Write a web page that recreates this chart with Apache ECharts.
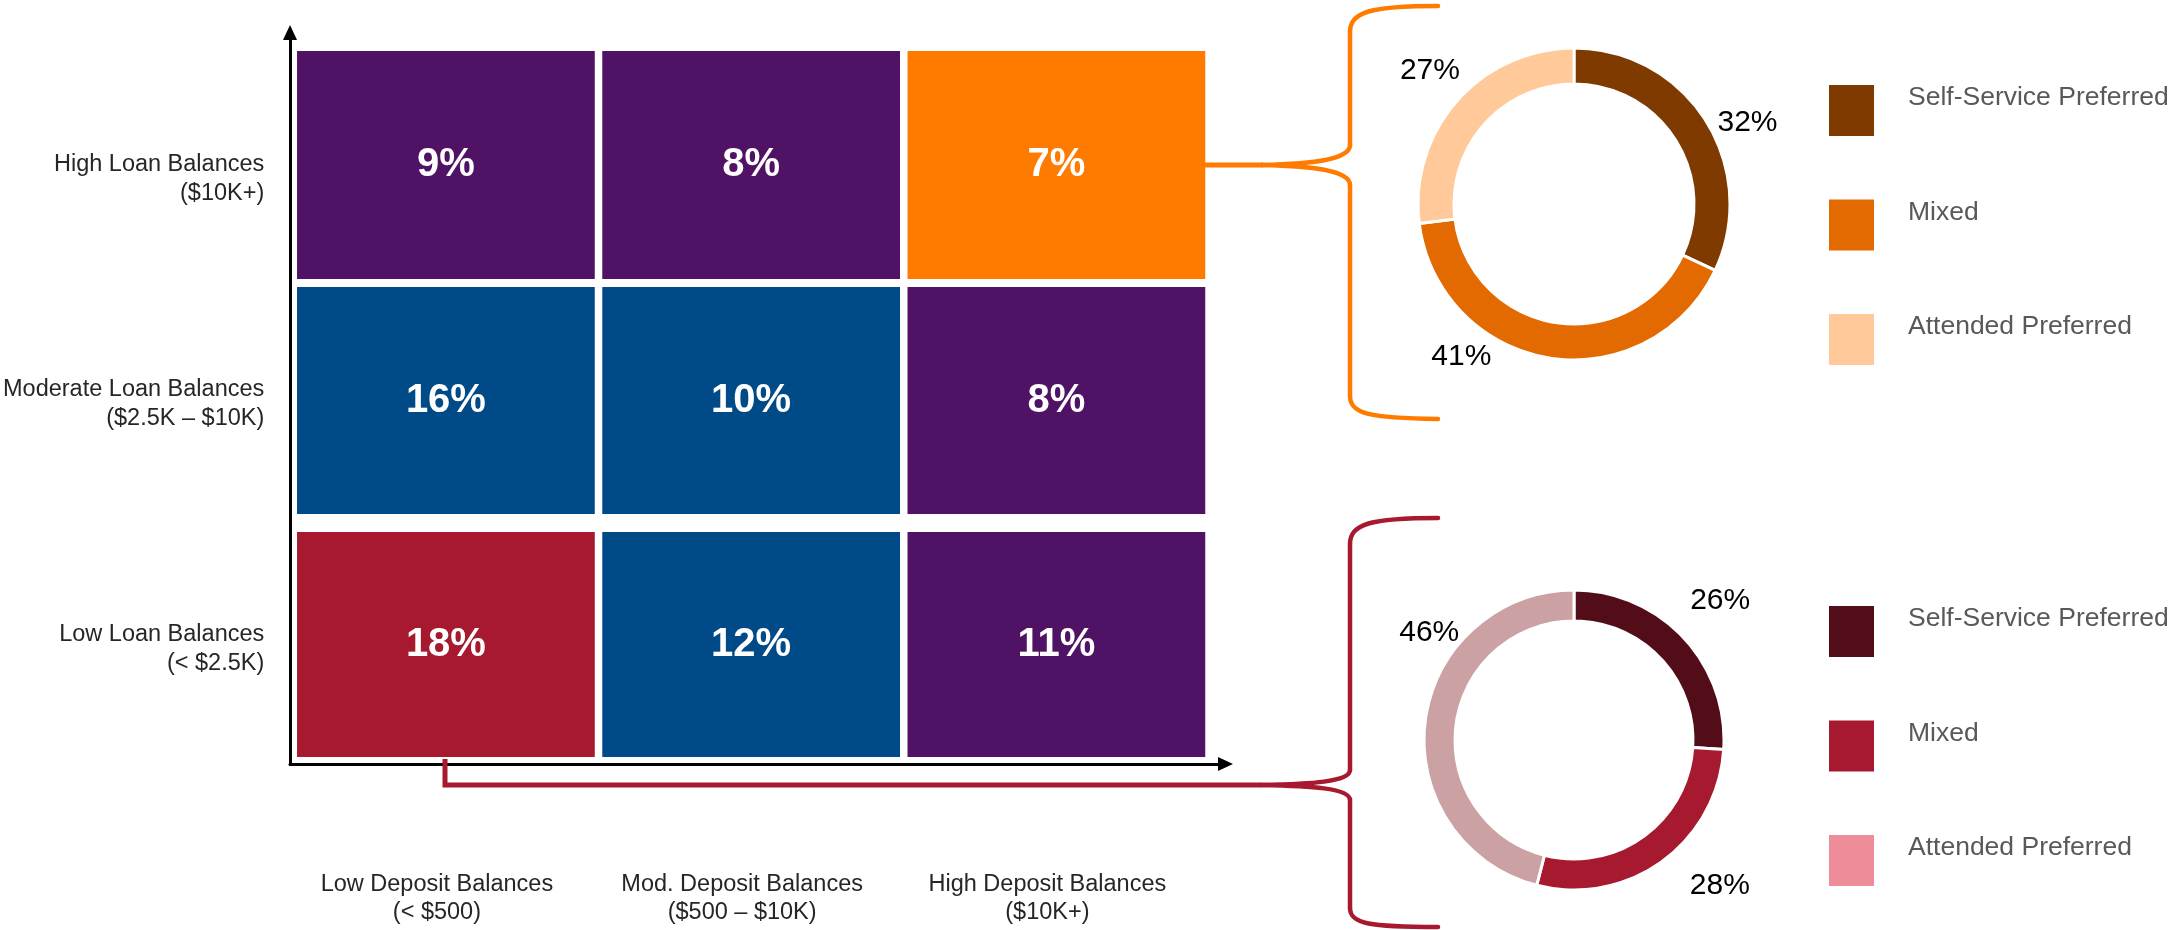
<!DOCTYPE html>
<html>
<head>
<meta charset="utf-8">
<script src="https://cdn.jsdelivr.net/npm/echarts@6/dist/echarts.min.js"></script>
<style>
html,body{margin:0;padding:0;background:#ffffff;}
#chart{width:2177px;height:930px;}
</style>
</head>
<body>
<div id="chart"></div>
<script>
// ---------------- DATA ----------------
const depositCategories = ['Low Deposit Balances\n(< $500)', 'Mod. Deposit Balances\n($500 – $10K)', 'High Deposit Balances\n($10K+)'];
const loanCategories = ['Low Loan Balances\n(< $2.5K)', 'Moderate Loan Balances\n($2.5K – $10K)', 'High Loan Balances\n($10K+)'];
const lowLoanShares = [18, 12, 11];
const moderateLoanShares = [16, 10, 8];
const highLoanShares = [9, 8, 7];
const channelNames = ['Self-Service Preferred', 'Mixed', 'Attended Preferred'];
const highLoanHighDepositMix = [32, 41, 27];
const lowLoanLowDepositMix = [26, 28, 46];

// ---------------- STYLE ----------------
const FONT = '"Liberation Sans", Arial, Helvetica, sans-serif';
const cellPalette = { purple: '#501264', blue: '#004B87', red: '#A6192E', orange: '#FF7B00' };
const cellColorRows = [
  ['red', 'blue', 'purple'],
  ['blue', 'blue', 'purple'],
  ['purple', 'purple', 'orange']
];
const rowInsets = [[9, 4], [2, 9], [4, 6]];      // [top, bottom] gap inside each row band
const loanLabelNudge = [-21.5, -28.5, -15.5];    // vertical placement of row labels
const topDonutColors = ['#7F3A00', '#E26A00', '#FFC999'];
const bottomDonutColors = ['#530D19', '#A6192E', '#CCA1A3'];
const topLegendColors = ['#7F3A00', '#E26A00', '#FFC999'];
const bottomLegendColors = ['#530D19', '#A6192E', '#EE8C99'];
const topLabelShift = [[0, 7], [-52, -9], [14, -25]];
const bottomLabelShift = [[-4, -31], [18, 18], [47, -87]];
const ORANGE = '#FF7B00';
const RED = '#A6192E';

// ---------------- BUILD ----------------
const loanRows = [lowLoanShares, moderateLoanShares, highLoanShares];
const cellData = [];
loanRows.forEach((row, r) => row.forEach((v, c) => cellData.push([c, r, v])));

function donutData(values, colors) {
  return channelNames.map((n, i) => ({ name: n, value: values[i], itemStyle: { color: colors[i] } }));
}
function legendData(colors) {
  return channelNames.map((n, i) => ({ name: n, itemStyle: { color: colors[i] } }));
}
function donutSeries(values, colors, center, radius, shifts) {
  return {
    type: 'pie',
    center: center,
    radius: radius,
    startAngle: 90,
    clockwise: true,
    silent: true,
    avoidLabelOverlap: false,
    itemStyle: { borderColor: '#ffffff', borderWidth: 3 },
    label: {
      show: true, position: 'outside', formatter: '{c}%',
      fontSize: 30, color: '#000000', fontFamily: FONT
    },
    labelLine: { show: false, length: 8, length2: 0 },
    labelLayout: function (p) { return { dx: shifts[p.dataIndex][0], dy: shifts[p.dataIndex][1] }; },
    emphasis: { disabled: true },
    data: donutData(values, colors)
  };
}
function legendBlock(top, colors) {
  return {
    orient: 'vertical', left: 1827, top: top, padding: 0,
    itemWidth: 47, itemHeight: 53, itemGap: 59.5,
    icon: 'rect', selectedMode: false,
    data: legendData(colors),
    // second (blank) line lifts the name towards the top of its swatch, as in the original
    formatter: function (name) { return name + '\n '; },
    textStyle: { fontSize: 26.5, color: '#595959', fontFamily: FONT,
      lineHeight: 25, padding: [0, 0, 0, 28] }
  };
}
function bez(x1, y1, cpx1, cpy1, cpx2, cpy2, x2, y2, color) {
  return { type: 'bezierCurve', z: 1, shape: { x1, y1, cpx1, cpy1, cpx2, cpy2, x2, y2 },
    style: { stroke: color, lineWidth: 4.5, fill: 'none', lineCap: 'round' } };
}
function seg(x1, y1, x2, y2, color, w) {
  return { type: 'line', z: 1, shape: { x1, y1, x2, y2 },
    style: { stroke: color, lineWidth: w || 4.5, lineCap: 'round' } };
}

const chart = echarts.init(document.getElementById('chart'), null, { renderer: 'canvas' });

const option = {
  backgroundColor: '#ffffff',
  animation: false,
  textStyle: { fontFamily: FONT },
  grid: [
    { left: 292, right: 968, top: 47, bottom: 169 },
    { left: 290, right: 951.5, top: 32.5, bottom: 166 }
  ],
  xAxis: [
    {
      type: 'category', gridIndex: 0, data: depositCategories,
      axisLine: { show: false }, axisTick: { show: false }, splitLine: { show: false },
      axisLabel: { interval: 0, margin: 110, fontSize: 23.5, lineHeight: 28, color: '#262626',
        fontFamily: FONT, padding: [0, 18, 0, 0] }
    },
    {
      type: 'value', gridIndex: 1, min: 0, max: 1,
      axisLine: { show: true, onZero: false, symbol: ['none', 'triangle'], symbolSize: [14, 15],
        lineStyle: { color: '#000000', width: 3 } },
      axisTick: { show: false }, axisLabel: { show: false }, splitLine: { show: false }
    }
  ],
  yAxis: [
    {
      type: 'category', gridIndex: 0,
      data: loanCategories.map((t, i) => ({
        value: t, textStyle: { verticalAlign: 'top', padding: [loanLabelNudge[i], 0, 0, 0] }
      })),
      axisLine: { show: false }, axisTick: { show: false }, splitLine: { show: false },
      axisLabel: { interval: 0, margin: 29, fontSize: 23.5, lineHeight: 29, color: '#262626', fontFamily: FONT }
    },
    {
      type: 'value', gridIndex: 1, min: 0, max: 1,
      axisLine: { show: true, onZero: false, symbol: ['none', 'triangle'], symbolSize: [14, 15],
        lineStyle: { color: '#000000', width: 3 } },
      axisTick: { show: false }, axisLabel: { show: false }, splitLine: { show: false }
    }
  ],
  legend: [
    legendBlock(83, topLegendColors),
    legendBlock(604, bottomLegendColors)
  ],
  series: [
    {
      type: 'custom', xAxisIndex: 0, yAxisIndex: 0, silent: true,
      data: cellData,
      renderItem: function (params, api) {
        const c = api.value(0), r = api.value(1), v = api.value(2);
        const pt = api.coord([c, r]);
        const size = api.size([1, 1]);
        const w = size[0] - 7.5;
        const top = pt[1] - size[1] / 2 + rowInsets[r][0];
        const bottom = pt[1] + size[1] / 2 - rowInsets[r][1];
        return {
          type: 'rect',
          shape: { x: pt[0] - w / 2, y: top, width: w, height: bottom - top },
          style: { fill: cellPalette[cellColorRows[r][c]] },
          textContent: {
            style: { text: v + '%', fill: '#ffffff', fontSize: 40, fontWeight: 'bold', fontFamily: FONT }
          },
          textConfig: { position: 'inside' }
        };
      }
    },
    donutSeries(highLoanHighDepositMix, topDonutColors, [1574, 204], [120, 156], topLabelShift),
    donutSeries(lowLoanLowDepositMix, bottomDonutColors, [1574, 740], [119, 150], bottomLabelShift)
  ],
  graphic: [
    // orange connector + brace
    seg(1205, 165, 1262, 165, ORANGE, 5),
    bez(1438, 6, 1370, 6, 1350, 12, 1350, 32, ORANGE),
    seg(1350, 32, 1350, 145, ORANGE),
    bez(1350, 145, 1350, 160, 1310, 164, 1262, 165, ORANGE),
    bez(1262, 165, 1310, 166, 1350, 170, 1350, 185, ORANGE),
    seg(1350, 185, 1350, 396, ORANGE),
    bez(1350, 396, 1350, 414, 1370, 418, 1438, 419, ORANGE),
    // red connector + brace
    { type: 'polyline', z: 1, shape: { points: [[445, 759], [445, 785], [1262, 785]] },
      style: { stroke: RED, lineWidth: 5, fill: 'none' } },
    bez(1438, 518, 1370, 518, 1350, 524, 1350, 544, RED),
    seg(1350, 544, 1350, 770, RED),
    bez(1350, 770, 1350, 782, 1310, 784, 1262, 785, RED),
    bez(1262, 785, 1310, 786, 1350, 788, 1350, 800, RED),
    seg(1350, 800, 1350, 908, RED),
    bez(1350, 908, 1350, 924, 1370, 927, 1438, 927, RED)
  ]
};
chart.setOption(option);
</script>
</body>
</html>
